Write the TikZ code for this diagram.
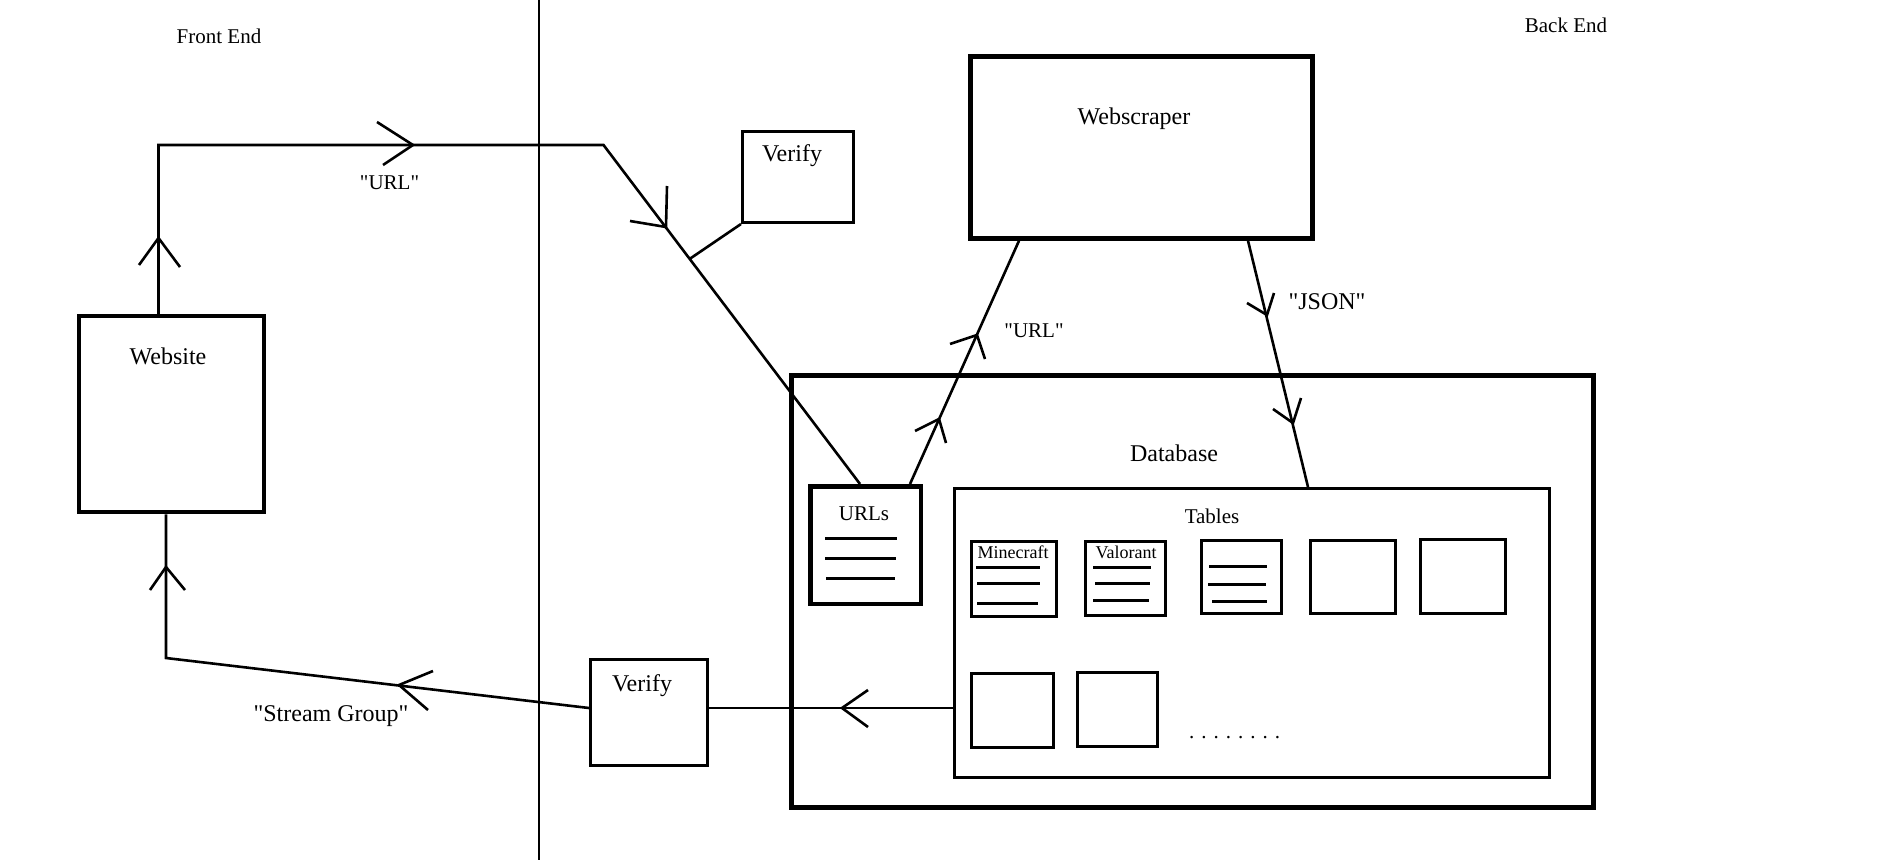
\documentclass[tikz,border=0pt]{standalone}
\usepackage{fontspec}
\setmainfont{Liberation Serif}
\usetikzlibrary{calc}
\newcommand\fsA{\fontsize{21}{25}\selectfont}
\newcommand\fsB{\fontsize{24}{28}\selectfont}
\newcommand\fsC{\fontsize{18}{21}\selectfont}
\newcommand\sq{\XeTeXglyph\XeTeXcharglyph"0022\relax}
\tikzset{
  thickbox/.style={draw, line width=4.5pt, inner sep=0pt, rectangle},
  dbbox/.style={draw, line width=5pt, inner sep=0pt, rectangle},
  thinbox/.style={draw, line width=3pt, inner sep=0pt, rectangle},
  conn/.style={draw, line width=2.6pt},
  chev/.style={draw, line width=2.6pt},
  rowline/.style={draw, line width=3pt},
  lbl/.style={anchor=base, inner sep=0pt}
}
\begin{document}
\begin{tikzpicture}[x=1pt,y=-1pt]
\useasboundingbox[fill=white] (0,0) rectangle (1889,860);

% separator
\coordinate (septop) at (539,0);
\coordinate (sepbot) at (539,860);
\draw[line width=2.4pt] (septop) -- (sepbot);

% boxes
\node[thickbox, minimum width=185pt, minimum height=196pt] (website) at (171.5,414) {};
\node[thickbox, minimum width=342pt, minimum height=182pt] (webscraper) at (1141.5,147.5) {};
\node[thinbox, minimum width=111pt, minimum height=91pt] (verifyA) at (798,177) {};
\node[dbbox, minimum width=802pt, minimum height=432pt] (database) at (1192.5,591.5) {};
\node[thickbox, minimum width=110.5pt, minimum height=117.5pt] (urls) at (865.5,545) {};
\node[thinbox, minimum width=595pt, minimum height=289pt] (tables) at (1252,633) {};
\node[thinbox, minimum width=117pt, minimum height=106pt] (verifyB) at (649,712.5) {};
\node[thinbox, minimum width=85pt, minimum height=75pt] (tminecraft) at (1014,579) {};
\node[thinbox, minimum width=80pt, minimum height=74pt] (tvalorant) at (1125.5,578.5) {};
\node[thinbox, minimum width=80pt, minimum height=73pt] (tthree) at (1241.5,577) {};
\node[thinbox, minimum width=85pt, minimum height=73pt] (tfour) at (1353,577) {};
\node[thinbox, minimum width=85pt, minimum height=74pt] (tfive) at (1463,576.5) {};
\node[thinbox, minimum width=82pt, minimum height=74pt] (tsix) at (1012.5,710.5) {};
\node[thinbox, minimum width=80pt, minimum height=74pt] (tseven) at (1117.5,709.5) {};

% rows inside boxes
\draw[rowline] (825,538) -- (897,538);
\draw[rowline] (825,558) -- (896,558);
\draw[rowline] (826,578) -- (895,578);
\draw[rowline] (976,567) -- (1040,567);
\draw[rowline] (977,583) -- (1040,583);
\draw[rowline] (977,603) -- (1038,603);
\draw[rowline] (1093,567) -- (1151,567);
\draw[rowline] (1095,583) -- (1150,583);
\draw[rowline] (1093,600) -- (1149,600);
\draw[rowline] (1209,566) -- (1267,566);
\draw[rowline] (1208,584) -- (1266,584);
\draw[rowline] (1212,601) -- (1267,601);

% labels
\node[lbl] (tfront) at (219,43) {\fsA Front End};
\node[lbl] (tback) at (1566,32) {\fsA Back End};
\node[lbl] (turlA) at (389.5,189) {\fsA \sq URL\sq};
\node[lbl] (tverifyA) at (792,161) {\fsB Verify};
\node[lbl] (twebscraper) at (1134,124) {\fsB Webscraper};
\node[lbl] (turlB) at (1034,337) {\fsA \sq URL\sq};
\node[lbl] (tjson) at (1327,309) {\fsB \sq JSON\sq};
\node[lbl] (twebsite) at (168,364) {\fsB Website};
\node[lbl] (tdatabase) at (1174,461) {\fsB Database};
\node[lbl] (turls) at (864,520) {\fsA URLs};
\node[lbl] (ttables) at (1212,523) {\fsA Tables};
\node[lbl] (tmc) at (1013,558) {\fsC Minecraft};
\node[lbl] (tvl) at (1126,558) {\fsC Valorant};
\node[lbl] (tverifyB) at (642,691) {\fsB Verify};
\node[lbl] (tstream) at (331,721) {\fsB \sq Stream Group\sq};
\node[anchor=base west, inner sep=0pt] (tdots) at (1189,738) {\fsA .\hspace{7pt}.\hspace{7pt}.\hspace{7pt}.\hspace{7pt}.\hspace{7pt}.\hspace{7pt}.\hspace{7pt}.};

% connectors
\coordinate (cA) at (158.5,145);
\coordinate (cB) at (603.5,145);
\coordinate (cC) at (166,658);
\coordinate (urlsin) at ($(urls.north)+(-5.5,0)$);
\draw[conn, line join=miter] ($(website.north)+(-13,0)$) -- (cA) -- (cB) -- (urlsin);
\coordinate (branch) at ($(cB)!0.336!(urlsin)$);
\draw[conn] (branch) -- (verifyA.south west);
\draw[conn] ($(urls.north)+(44.5,0)$) -- ($(webscraper.south)+(-122.5,0)$);
\draw[conn] ($(webscraper.south)+(106.5,0)$) -- ($(tables.north)+(56,0)$);
\draw[conn] ($(tables.west)+(0,75)$) -- ($(verifyB.east)+(0,-4.5)$);
\draw[conn, line join=miter] ($(verifyB.west)+(0,-4.5)$) -- (cC) -- ($(website.south)+(-5.5,0)$);

% arrow chevrons
\draw[chev] (139,265) -- (158.5,238) -- (180,267);
\draw[chev] (377,122) -- (413,145) -- (383,165);
\draw[chev] (667,186) -- (666,227) -- (630,221);
\draw[chev] (915,431) -- (939,419) -- (946,443);
\draw[chev] (950,344) -- (977,335) -- (985,359);
\draw[chev] (1247,303) -- (1267,315) -- (1274,293);
\draw[chev] (1273,409) -- (1293,423) -- (1301,398);
\draw[chev] (868,690) -- (842,708) -- (868,727);
\draw[chev] (433,671) -- (399,685) -- (428,710);
\draw[chev] (150,590) -- (166,567) -- (185,590);
\end{tikzpicture}
\end{document}
